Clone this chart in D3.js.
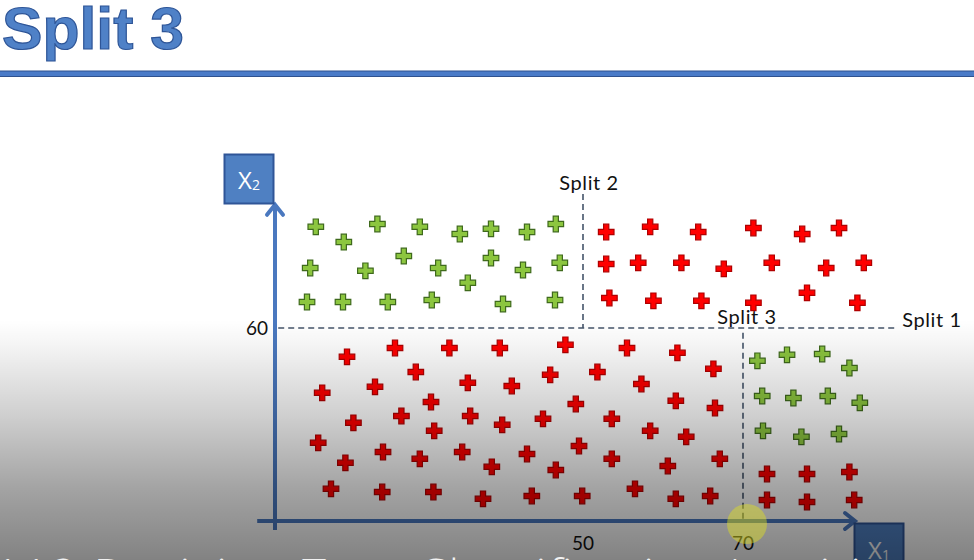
<!DOCTYPE html>
<html><head><meta charset="utf-8">
<script src="https://cdn.jsdelivr.net/npm/d3@7"></script>
<style>html,body{margin:0;padding:0;background:#fff;overflow:hidden}</style>
</head><body>
<svg id="c" width="974" height="560"></svg>
<script>
// ---- data (x1, x2) ----
const greenTopLeft = [
 [16.6,85.3],[20.1,81.5],[24.3,86],[29.6,85.3],[34.6,83.5],[38.5,84.8],[43,84],[46.6,86],
 [15.9,75],[22.8,74.3],[27.6,78],[31.9,75],[35.6,71.3],[38.5,77.5],[42.5,74.5],[47.1,76.3],
 [15.5,66.5],[20,66.5],[25.6,66.5],[31.1,67],[40,66],[46.5,67]
];
const redTopRight = [
 [52.9,84],[58.4,85.3],[64.4,84],[71.3,85],[77.4,83.5],[82,85],
 [52.9,76],[56.9,76.3],[62.3,76.3],[67.6,74.8],[73.6,76.3],[80.4,75],[85.1,76.3],
 [53.3,67.5],[58.8,66.8],[64.8,66.8],[71.3,66.3],[78,68.8],[84.3,66.3]
];
const redBottomLeft = [
 [20.5,52.8],[26.5,55],[33.3,55],[39.6,55],[47.8,55.8],[55.5,55],[61.8,53.8],
 [29.1,49],[24,45.3],[17.4,43.8],[35.6,46.3],[41.1,45.5],[45.9,48.3],[51.8,49],[57.3,46],[66.3,49.8],
 [31,41.5],[49.1,41],[61.6,41.8],[66.5,40],
 [21.3,36.3],[27.3,38],[35.9,38],[39.9,35.8],[45,37.3],[31.4,34.3],[53.6,37.3],[58.4,34.3],[62.9,32.8],
 [16.9,31.3],[25,29],[29.6,27.3],[34.9,29],[38.6,25.3],[43,28.5],[46.6,24.5],[49.5,30.5],[20.3,26.3],[53.6,27.3],[60.6,25.5],[67.1,27.3],
 [18.5,19.8],[24.9,19],[31.3,19],[37.5,17.3],[43.6,18],[49.9,18],[56.5,19.8],[61.6,17.3],[65.9,18]
];
const greenBottomRight = [
 [71.8,51.8],[75.5,53.3],[79.9,53.5],[83.3,50],
 [72.4,43],[76.3,42.5],[80.6,43],[84.6,41.3],
 [72.5,34.3],[77.3,32.8],[82,33.5]
];
const redBottomRight = [
 [73,23.5],[78,23.5],[83.3,24],[73,17],[78,16.5],[83.9,17]
];
const split1 = 60, split2 = 50, split3 = 70;
const xTicks = [50, 70];
const yTicks = [60];
const splitLabels = ["Split 1", "Split 2", "Split 3"];
const titleText = "Split 3";
const captionText = "112 Decision Tree Classification Intuition";

// ---- scales ----
const x = d3.scaleLinear().domain([50, 70]).range([583, 743]);
const y = d3.scaleLinear().domain([60, 70]).range([328, 288]);

const svg = d3.select("#c");
const defs = svg.append("defs");

// title
svg.append("text").attr("x", 2).attr("y", 49)
  .attr("font-family", "Liberation Sans, Arial, sans-serif").attr("font-weight", "bold")
  .attr("font-size", 60).attr("textLength", 182).attr("lengthAdjust", "spacingAndGlyphs")
  .attr("fill", "#4f81c7").attr("stroke", "#2e5597").attr("stroke-width", 1.2)
  .text(titleText);
svg.append("rect").attr("x", -2).attr("y", 71).attr("width", 980).attr("height", 5.5)
  .attr("fill", "#4a7bc8").attr("stroke", "#2f528f").attr("stroke-width", 1);

const axisColor = "#4a78bf";
const xMin = 9.4, xMax = 84, yMin = 9.5, yMax = 90.8;
const g = svg.append("g");

// dashed split lines
const dash = {stroke: "#44546a", "stroke-width": 1.6, "stroke-dasharray": "6,4", fill: "none"};
function dline(x1, y1, x2, y2) {
  const l = g.append("line").attr("x1", x1).attr("y1", y1).attr("x2", x2).attr("y2", y2);
  Object.entries(dash).forEach(([k, v]) => l.attr(k, v));
}
dline(x(xMin) + 20, y(split1), x(88.9), y(split1));
dline(x(split2), y(93.5), x(split2), y(split1));
dline(x(split3), y(58.8), x(split3), y(yMin + 2.5));

// axes
g.append("line").attr("x1", 275).attr("x2", 275).attr("y1", y(yMin)).attr("y2", y(yMax) + 2)
  .attr("stroke", axisColor).attr("stroke-width", 4);
g.append("line").attr("x1", x(xMin) - 1).attr("x2", x(xMax) - 2).attr("y1", y(11.75)).attr("y2", y(11.75))
  .attr("stroke", axisColor).attr("stroke-width", 4);
// arrow heads
g.append("path").attr("d", `M${275 - 8},${y(yMax) + 10} L275,${y(yMax)} L${275 + 8},${y(yMax) + 10}`)
  .attr("stroke", axisColor).attr("stroke-width", 4).attr("fill", "none").attr("stroke-linecap", "round");
g.append("path").attr("d", `M${x(xMax) - 10},${y(11.75) - 8} L${x(xMax)},${y(11.75)} L${x(xMax) - 10},${y(11.75) + 8}`)
  .attr("stroke", axisColor).attr("stroke-width", 4).attr("fill", "none").attr("stroke-linecap", "round");

// axis boxes
g.append("rect").attr("x", 224.5).attr("y", 154.5).attr("width", 49).attr("height", 49)
  .attr("fill", "#4f80c2").attr("stroke", "#2f5597").attr("stroke-width", 2);
g.append("text").attr("x", 249).attr("y", 189).attr("text-anchor", "middle").attr("fill", "#fff")
  .attr("font-family", "Open Sans, sans-serif").attr("font-size", 24)
  .html('X<tspan font-size="14" dy="1">2</tspan>');
g.append("rect").attr("x", 854.5).attr("y", 523.5).attr("width", 49).attr("height", 49)
  .attr("fill", "#4f80c2").attr("stroke", "#2f5597").attr("stroke-width", 2);
g.append("text").attr("x", 879).attr("y", 559).attr("text-anchor", "middle").attr("fill", "#fff")
  .attr("font-family", "Open Sans, sans-serif").attr("font-size", 24)
  .html('X<tspan font-size="14" dy="1">1</tspan>');

// tick labels
const lblFont = "Lato, Open Sans, sans-serif";
xTicks.forEach(t => g.append("text").attr("x", x(t)).attr("y", 550).attr("text-anchor", "middle")
  .attr("font-family", lblFont).attr("font-size", 19).attr("fill", "#111").text(t));
yTicks.forEach(t => g.append("text").attr("x", 268).attr("y", y(t) + 7).attr("text-anchor", "end")
  .attr("font-family", lblFont).attr("font-size", 19).attr("fill", "#111").text(t));

// split labels
const sl = [
  [x(88.9) + 8, y(split1) - 1, "start", splitLabels[0]],
  [x(split2) + 6, y(94.5), "middle", splitLabels[1]],
  [x(split3) + 4, y(60.9), "middle", splitLabels[2]]
];
sl.forEach(([lx, ly, a, t]) => g.append("text").attr("x", lx).attr("y", ly).attr("text-anchor", a)
  .attr("font-family", lblFont).attr("font-size", 20).attr("letter-spacing", 0.6).attr("fill", "#111").text(t));

// points
const sym = d3.symbol().type(d3.symbolCross).size(135);
function pts(data, fill, stroke) {
  g.selectAll(null).data(data).enter().append("path")
    .attr("d", sym).attr("transform", d => `translate(${x(d[0])},${y(d[1])})`)
    .attr("fill", fill).attr("stroke", stroke).attr("stroke-width", 1.2);
}
pts(greenTopLeft, "#8cc63f", "#3f6a1c");
pts(greenBottomRight, "#8cc63f", "#3f6a1c");
pts(redTopRight, "#ff0000", "#b00000");
pts(redBottomLeft, "#ff0000", "#b00000");
pts(redBottomRight, "#ff0000", "#b00000");

// video overlay gradient
const lg = defs.append("linearGradient").attr("id", "ov").attr("x1", 0).attr("x2", 0).attr("y1", 0).attr("y2", 1);
[[0, 0], [0.1, 0.04], [0.4, 0.19], [0.7, 0.36], [1, 0.49]].forEach(([o, a]) =>
  lg.append("stop").attr("offset", o).attr("stop-color", "#000").attr("stop-opacity", a));
svg.append("rect").attr("x", 0).attr("y", 320).attr("width", 974).attr("height", 240).attr("fill", "url(#ov)");

// cursor highlight
svg.append("circle").attr("cx", x(70.5)).attr("cy", 524).attr("r", 20)
  .attr("fill", "#e0e020").attr("opacity", 0.45);

// caption
svg.append("text").attr("x", -6).attr("y", 591)
  .attr("font-family", "Open Sans, sans-serif").attr("font-weight", 300).attr("font-size", 45)
  .attr("textLength", 925).attr("lengthAdjust", "spacing")
  .attr("fill", "#f2f2f2").text(captionText);
</script>
</body></html>
